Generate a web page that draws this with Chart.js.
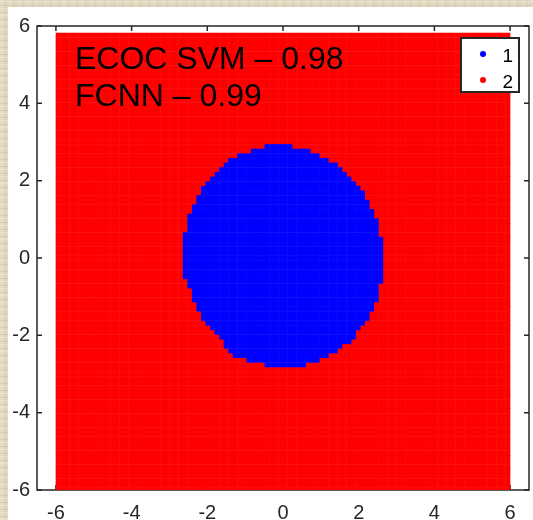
<!DOCTYPE html>
<html>
<head>
<meta charset="utf-8">
<script src="https://cdn.jsdelivr.net/npm/chart.js@4.4.0/dist/chart.umd.min.js"></script>
<style>
    html, body { margin: 0; padding: 0; }
    body {
        width: 533px; height: 520px; overflow: hidden; position: relative;
        background-color: #e3d8c0;
        background-image:
            repeating-linear-gradient(0deg, rgba(255,255,255,0.22) 0 1px, rgba(0,0,0,0) 1px 3px, rgba(110,90,60,0.10) 3px 4px, rgba(0,0,0,0) 4px 7px),
            repeating-linear-gradient(90deg, rgba(255,255,255,0.12) 0 2px, rgba(0,0,0,0) 2px 5px, rgba(110,90,60,0.08) 5px 6px, rgba(0,0,0,0) 6px 9px);
    }
    #panel { position: absolute; left: 8px; top: 7px; width: 525px; height: 513px; background: #fff; }
    #mycanvas { display: block; }
</style>
</head>
<body>
<div id="panel"><canvas id="mycanvas" width="525" height="513" style="width:525px;height:513px"></canvas></div>
<script>
// Axis ticks
var xTicks = [-6, -4, -2, 0, 2, 4, 6];
var yTicks = [-6, -4, -2, 0, 2, 4, 6];

// Class names and annotation text
var classLabels = ["1", "2"];
var annotationLines = ["ECOC SVM \u2013 0.98", "FCNN \u2013 0.99"];

// Evaluation mesh (x: -5.94..5.94, y: -6..5.76)
var gridStartX = -5.94;
var gridStartY = -6;
var gridStep = 0.12;
var gridCountX = 100;
var gridCountY = 99;

// Class 1 region: row y, left edge, right edge
var blueRowY  = [2.88, 2.76, 2.64, 2.52, 2.40, 2.28, 2.16, 2.04, 1.92, 1.80, 1.68, 1.56, 1.44, 1.32, 1.20, 1.08,
                 0.96, 0.84, 0.72, 0.60, 0.48, 0.36, 0.24, 0.12, 0.00, -0.12, -0.24, -0.36, -0.48, -0.60, -0.72, -0.84,
                 -0.96, -1.08, -1.20, -1.32, -1.44, -1.56, -1.68, -1.80, -1.92, -2.04, -2.16, -2.28, -2.40, -2.52, -2.64, -2.76];
var blueLeft  = [-0.48, -0.85, -1.22, -1.48, -1.59, -1.69, -1.80, -1.93, -2.04, -2.14, -2.14, -2.28, -2.28, -2.41, -2.41, -2.54,
                 -2.54, -2.54, -2.54, -2.65, -2.65, -2.65, -2.65, -2.65, -2.65, -2.65, -2.65, -2.65, -2.65, -2.51, -2.51, -2.41,
                 -2.41, -2.41, -2.28, -2.28, -2.17, -2.17, -2.04, -1.93, -1.80, -1.69, -1.59, -1.59, -1.46, -1.35, -1.00, -0.48];
var blueRight = [0.26, 0.77, 0.98, 1.22, 1.46, 1.59, 1.69, 1.83, 1.93, 2.06, 2.17, 2.17, 2.30, 2.30, 2.41, 2.41,
                 2.51, 2.51, 2.51, 2.51, 2.65, 2.65, 2.65, 2.65, 2.65, 2.65, 2.65, 2.65, 2.65, 2.65, 2.51, 2.51,
                 2.51, 2.51, 2.41, 2.41, 2.30, 2.30, 2.17, 2.06, 1.93, 1.93, 1.83, 1.59, 1.46, 1.22, 1.00, 0.63];

function isClassOne(x, y) {
    for (var r = 0; r < blueRowY.length; r++) {
        if (Math.abs(blueRowY[r] - y) < 0.03) {
            return x >= blueLeft[r] - 0.001 && x <= blueRight[r] + 0.001;
        }
    }
    return false;
}

var bluePoints = [];
var redPoints = [];
for (var j = 0; j < gridCountY; j++) {
    var y = Math.round((gridStartY + j * gridStep) * 100) / 100;
    for (var i = 0; i < gridCountX; i++) {
        var x = Math.round((gridStartX + i * gridStep) * 100) / 100;
        if (isClassOne(x, y)) {
            bluePoints.push({x: x, y: y});
        } else {
            redPoints.push({x: x, y: y});
        }
    }
}

var axisColor = "#262626";
var fontFamily = '"Liberation Sans", Arial, Helvetica, sans-serif';

// Box with inward ticks, drawn under the data
var boxPlugin = {
    id: "box",
    beforeDatasetsDraw: function(chart) {
        var c = chart.ctx, a = chart.chartArea;
        var xs = chart.scales.x, ys = chart.scales.y;
        c.save();
        c.strokeStyle = axisColor;
        c.lineWidth = 1.5;
        c.strokeRect(a.left, a.top, a.right - a.left, a.bottom - a.top);
        c.beginPath();
        xTicks.forEach(function(v) {
            var px = xs.getPixelForValue(v);
            c.moveTo(px, a.bottom); c.lineTo(px, a.bottom - 5);
            c.moveTo(px, a.top); c.lineTo(px, a.top + 5);
        });
        yTicks.forEach(function(v) {
            var py = ys.getPixelForValue(v);
            c.moveTo(a.left, py); c.lineTo(a.left + 5, py);
            c.moveTo(a.right, py); c.lineTo(a.right - 5, py);
        });
        c.stroke();
        c.restore();
    }
};

// Annotation text and legend box, drawn over the data
var overlayPlugin = {
    id: "overlay",
    afterDatasetsDraw: function(chart) {
        var c = chart.ctx, a = chart.chartArea;
        c.save();
        c.fillStyle = "#000";
        c.font = "32px " + fontFamily;
        c.textBaseline = "alphabetic";
        c.textAlign = "left";
        c.fillText(annotationLines[0], a.left + 38, a.top + 43);
        c.fillText(annotationLines[1], a.left + 38, a.top + 80);

        // legend
        var lx = a.right - 68, ly = a.top + 12, lw = 58, lh = 54;
        c.fillStyle = "#fff";
        c.fillRect(lx, ly, lw, lh);
        c.strokeStyle = axisColor;
        c.lineWidth = 2;
        c.strokeRect(lx, ly, lw, lh);
        chart.data.datasets.forEach(function(ds, k) {
            var cy = ly + 16 + k * 26;
            c.fillStyle = ds.backgroundColor;
            c.beginPath();
            c.arc(lx + 22, cy, 3, 0, Math.PI * 2);
            c.fill();
            c.fillStyle = "#000";
            c.font = "19px " + fontFamily;
            c.textAlign = "right";
            c.fillText(ds.label, lx + 52, cy + 8);
        });
        c.restore();
    }
};

var ctx = document.getElementById("mycanvas");

var scatterChart = new Chart(ctx, {
    type: "scatter",
    data: {
        datasets: [{
            label: classLabels[0],
            data: bluePoints,
            backgroundColor: "#0000ff",
            borderWidth: 0,
            pointStyle: "rect",
            pointRadius: 3.6,
            clip: 0
        }, {
            label: classLabels[1],
            data: redPoints,
            backgroundColor: "#ff0000",
            borderWidth: 0,
            pointStyle: "rect",
            pointRadius: 3.6,
            clip: 0
        }]
    },
    options: {
        responsive: false,
        animation: false,
        events: [],
        layout: { padding: { left: 0, top: 16, right: 3, bottom: 0 } },
        plugins: {
            legend: { display: false },
            tooltip: { enabled: false }
        },
        scales: {
            x: {
                type: "linear",
                min: -6.5,
                max: 6.5,
                grid: { display: false, drawTicks: false },
                border: { display: false },
                afterBuildTicks: function(s) { s.ticks = xTicks.map(function(v) { return {value: v}; }); },
                afterFit: function(s) { s.height = 30; },
                ticks: {
                    color: axisColor,
                    font: { family: fontFamily, size: 20 },
                    padding: 11,
                    maxRotation: 0,
                    autoSkip: false,
                    callback: function(v) { return String(v); }
                }
            },
            y: {
                type: "linear",
                min: -6,
                max: 6,
                grid: { display: false, drawTicks: false },
                border: { display: false },
                afterBuildTicks: function(s) { s.ticks = yTicks.map(function(v) { return {value: v}; }); },
                afterFit: function(s) { s.width = 29; },
                ticks: {
                    color: axisColor,
                    font: { family: fontFamily, size: 20 },
                    padding: 7,
                    autoSkip: false,
                    callback: function(v) { return String(v); }
                }
            }
        }
    },
    plugins: [boxPlugin, overlayPlugin]
});
</script>
</body>
</html>
